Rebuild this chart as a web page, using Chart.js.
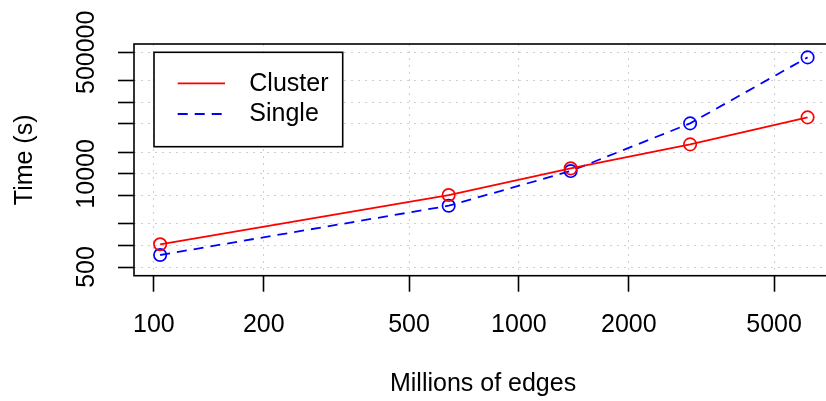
<!DOCTYPE html>
<html>
<head>
<meta charset="utf-8">
<style>
html,body{margin:0;padding:0;background:#fff;overflow:hidden;width:826px;height:401px}
#wrap{position:relative;width:840px;height:401px}
</style>
<script src="https://cdn.jsdelivr.net/npm/chart.js@4/dist/chart.umd.min.js"></script>
</head>
<body>
<div id="wrap"><canvas id="c" width="840" height="401"></canvas></div>
<script>
// ---- data ----
const edges = [104, 642, 1386, 2944, 6177];
const clusterTime = [1038, 5065, 11950, 25860, 61620];
const singleTime = [736, 3590, 10960, 50800, 424500];
const seriesNames = ['Cluster', 'Single'];
const xTicks = [100, 200, 500, 1000, 2000, 5000];
const yTicks = [500, 1000, 2000, 5000, 10000, 20000, 50000, 100000, 200000, 500000];
const yTickLabels = [500, 10000, 500000];
const xTitle = 'Millions of edges';
const yTitle = 'Time (s)';

const FONT = "'Liberation Sans', Arial, Helvetica, sans-serif";
const FSIZE = 25;
Chart.defaults.font.family = FONT;
Chart.defaults.font.size = FSIZE;
Chart.defaults.color = '#000';

const toPoints = (xs, ys) => xs.map((x, i) => ({x: x, y: ys[i]}));

const framePlugin = {
  id: 'frameAndLegend',
  afterDraw(chart) {
    const {ctx, chartArea: a} = chart;
    ctx.save();
    ctx.strokeStyle = '#000';
    ctx.lineWidth = 1.6;
    ctx.strokeRect(a.left, a.top, a.right - a.left, a.bottom - a.top);
    // legend box
    const x0 = a.left + 20, y0 = a.top + 8.3, w = 188.7, h = 94.4;
    ctx.fillStyle = '#fff';
    ctx.fillRect(x0, y0, w, h);
    ctx.strokeRect(x0, y0, w, h);
    chart.data.datasets.forEach((ds, i) => {
      const yy = y0 + 31 + i * 30.7;
      ctx.strokeStyle = ds.borderColor;
      ctx.lineWidth = ds.borderWidth;
      ctx.setLineDash(ds.borderDash || []);
      ctx.beginPath();
      ctx.moveTo(x0 + 23.7, yy);
      ctx.lineTo(x0 + 71, yy);
      ctx.stroke();
      ctx.setLineDash([]);
      ctx.fillStyle = '#000';
      ctx.font = FSIZE + 'px ' + FONT;
      ctx.textBaseline = 'middle';
      ctx.textAlign = 'left';
      ctx.fillText(ds.label, x0 + 95.3, yy + 0.5);
    });
    ctx.restore();
  }
};

new Chart(document.getElementById('c'), {
  type: 'line',
  data: {
    datasets: [
      {
        label: seriesNames[0],
        data: toPoints(edges, clusterTime),
        borderColor: '#ff0000',
        borderWidth: 1.8,
        pointRadius: 6.2,
        pointBorderWidth: 1.7,
        pointBackgroundColor: 'rgba(0,0,0,0)',
        pointBorderColor: '#ff0000',
        fill: false,
        tension: 0
      },
      {
        label: seriesNames[1],
        data: toPoints(edges, singleTime),
        borderColor: '#0000ff',
        borderWidth: 1.8,
        borderDash: [10, 7],
        pointRadius: 6.2,
        pointBorderWidth: 1.7,
        pointBackgroundColor: 'rgba(0,0,0,0)',
        pointBorderColor: '#0000ff',
        fill: false,
        tension: 0
      }
    ]
  },
  options: {
    responsive: false,
    animation: false,
    events: [],
    layout: {padding: {top: 44, right: 5, left: 0, bottom: 0}},
    plugins: {legend: {display: false}, tooltip: {enabled: false}},
    scales: {
      x: {
        type: 'logarithmic',
        min: 88.2,
        max: 7210,
        afterBuildTicks: s => { s.ticks = xTicks.map(v => ({value: v})); },
        afterFit: s => { s.height = 125.3; },
        ticks: {
          autoSkip: false, minRotation: 0, maxRotation: 0,
          padding: 18.1, color: '#000',
          callback: v => String(v)
        },
        grid: {
          color: '#cfcfcf', lineWidth: 1,
          drawTicks: true, tickLength: 16, tickWidth: 1.6, tickColor: '#000', tickBorderDash: []
        },
        border: {display: false, dash: [2, 5]},
        title: {display: true, text: xTitle, color: '#000', font: {size: FSIZE}, padding: {top: 0, bottom: 2}}
      },
      y: {
        type: 'logarithmic',
        min: 378,
        max: 653000,
        afterBuildTicks: s => { s.ticks = yTicks.map(v => ({value: v})); },
        afterFit: s => { s.width = 134; },
        ticks: {
          autoSkip: false, minRotation: 90, maxRotation: 90,
          crossAlign: 'center', padding: -11.2, color: '#000',
          callback: v => (yTickLabels.includes(v) ? String(v) : '')
        },
        grid: {
          color: '#cfcfcf', lineWidth: 1,
          drawTicks: true, tickLength: 16, tickWidth: 1.6, tickColor: '#000', tickBorderDash: []
        },
        border: {display: false, dash: [2, 5]},
        title: {display: true, text: yTitle, color: '#000', font: {size: FSIZE}, padding: {top: 10.5, bottom: 0}}
      }
    }
  },
  plugins: [framePlugin]
});
</script>
</body>
</html>
